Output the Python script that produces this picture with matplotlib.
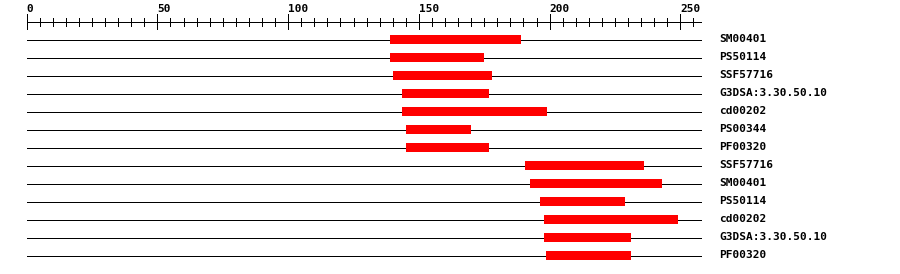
import matplotlib
matplotlib.use("Agg")
import matplotlib.pyplot as plt
import numpy as np

# domain hits, in residue positions
labels = ['SM00401', 'PS50114', 'SSF57716', 'G3DSA:3.30.50.10', 'cd00202',
          'PS00344', 'PF00320', 'SSF57716', 'SM00401', 'PS50114', 'cd00202',
          'G3DSA:3.30.50.10', 'PF00320']
starts = [139, 139, 140, 143.5, 143.5, 145, 145, 190.5, 192.5, 196.5, 198, 198, 198.5]
ends = [189, 175, 178, 177, 199, 170, 177, 236, 243, 229, 249, 231, 231]
seq_len = 258
major_ticks = [0, 50, 100, 150, 200, 250]

W, H = 900, 274
x0_px = 26.67          # pixel of residue 0
scale = 653.67 / 250   # pixels per residue

fig = plt.figure(figsize=(W / 100, H / 100), dpi=100)
ax = fig.add_axes([0, 0, 1, 1])
ax.set_xlim(-x0_px / scale, (W - x0_px) / scale)
ax.set_ylim(H, 0)
ax.axis('off')

font = dict(family='DejaVu Sans Mono', fontweight='bold', fontsize=8)
lw = 72 / 100  # one pixel
line_kw = dict(color='black', lw=lw, antialiased=False)

# ruler
axis_y = 21.5
ax.hlines(axis_y, 0, seq_len, **line_kw)
minor = np.arange(0, seq_len + 1, 5)
ax.vlines(minor, axis_y - 4, axis_y + 4, **line_kw)
ax.vlines(major_ticks, axis_y - 7.5, axis_y + 7, **line_kw)
for t in major_ticks:
    ax.text(t, 12.5, str(t), ha='left', va='baseline', **font)

# rows
row_y = 39.5 + 18 * np.arange(len(labels))
ax.hlines(row_y, 0, seq_len, **line_kw)
ax.barh(row_y, np.array(ends) - np.array(starts), left=starts, height=9,
        color='#ff0000', linewidth=0, antialiased=False, zorder=3)
for y, lab in zip(row_y, labels):
    ax.text((719 - x0_px) / scale, y, lab, ha='left', va='center', **font)

fig.savefig('out.png', dpi=100, facecolor='white')
